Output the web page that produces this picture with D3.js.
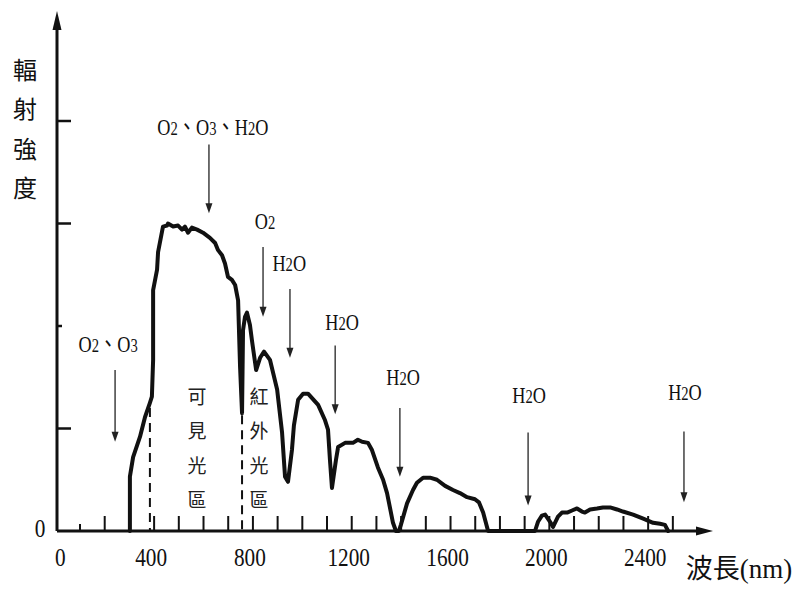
<!DOCTYPE html>
<html><head><meta charset="utf-8">
<script src="https://cdn.jsdelivr.net/npm/d3@7"></script>
<style>body{margin:0;background:#fff}</style>
</head><body>
<script>
// ---- data ----
const wavelength = [302,302,315,343,363,383,391,396,396,412,416,432,436,452,456,477,497,513,525,537,553,574,598,626,647,659,675,687,699,715,728,740,748,756,760,768,776,788,796,813,829,845,869,898,918,930,942,958,966,983,1003,1023,1064,1092,1104,1112,1120,1136,1145,1173,1205,1225,1242,1266,1282,1306,1327,1343,1367,1379,1391,1399,1424,1448,1464,1489,1517,1545,1578,1610,1638,1667,1699,1715,1732,1752,1942,1954,1970,1983,2003,2015,2035,2051,2072,2092,2112,2132,2144,2165,2193,2217,2246,2274,2298,2339,2380,2420,2448,2468,2481];
const intensity = [0,0.53,0.72,0.92,1.11,1.25,1.31,1.67,2.35,2.55,2.72,2.92,2.97,2.98,3.00,2.97,2.98,2.94,2.97,2.91,2.96,2.94,2.91,2.86,2.81,2.74,2.69,2.61,2.48,2.45,2.40,2.25,1.60,1.15,1.96,2.09,2.13,2.01,1.86,1.57,1.69,1.75,1.67,1.38,0.96,0.53,0.48,0.79,1.03,1.28,1.34,1.34,1.23,1.08,0.99,0.69,0.42,0.69,0.82,0.86,0.86,0.89,0.87,0.86,0.79,0.62,0.50,0.37,0.08,0,0,0.06,0.27,0.40,0.47,0.52,0.52,0.50,0.44,0.40,0.37,0.33,0.31,0.28,0.18,0,0,0.09,0.15,0.16,0.09,0.04,0.14,0.18,0.18,0.20,0.22,0.19,0.18,0.21,0.22,0.23,0.23,0.21,0.19,0.16,0.12,0.08,0.07,0.06,0];
const xTickValues = [100,200,300,400,500,600,700,800,900,1000,1100,1200,1300,1400,1500,1600,1700,1800,1900,2000,2100,2200,2300,2400,2500];
const xTickLabels = [0,400,800,1200,1600,2000,2400];
const yTickValues = [1,2,3,4];
const yTickLen = [14,5,14,14];
const yTitle = "輻射強度";
const xTitle = "波長(nm)";
const annLabels = ["O2、O3","O2、O3、H2O","O2","H2O","H2O","H2O","H2O","H2O"];
const annWavelength = [242,622,841,950,1133,1395,1914,2545];
const annTop = [1.57,3.77,2.77,2.36,1.81,1.20,0.96,0.97];
const annBottom = [0.87,3.10,2.09,1.69,1.14,0.53,0.25,0.28];
const annLabelWavelength = [214,638,849,947,1161,1408,1918,2549];
const annLabelY = [1.83,3.94,3.03,2.62,2.04,1.50,1.33,1.36];
const regionText = ["可見光區","紅外光區"];
const regionWavelength = [574,825];
const regionTop = [1.31,1.31];
const boundaryWavelength = [383,756];
const boundaryTop = [1.20,1.13];

// ---- drawing ----
const W = 800, H = 600;
const svg = d3.select("body").append("svg").attr("width", W).attr("height", H)
  .style("font-family", "'Liberation Serif','Noto Sans CJK TC',serif");

const x = d3.scaleLinear().domain([0, 2650]).range([55.3, 709.9]);
const y = d3.scaleLinear().domain([0, 4]).range([531, 121]);
const axisX = 57;

function richText(g, str, cx, cy, size, sx) {
  const t = g.append("text")
    .attr("transform", `translate(${cx},${cy + size * 0.34}) scale(${sx},1)`)
    .attr("text-anchor", "middle")
    .attr("fill", "#111");
  const chars = Array.from(str);
  chars.forEach((c, i) => {
    const isSub = /[0-9]/.test(c) && i > 0 && /[A-Za-z]/.test(chars[i - 1]);
    t.append("tspan").text(c).attr("font-size", isSub ? size * 0.8 : size);
  });
  return t;
}

// axes
const ink = "#111";
svg.append("line").attr("x1", axisX).attr("x2", axisX).attr("y1", 531).attr("y2", 26)
  .attr("stroke", ink).attr("stroke-width", 3);
svg.append("path").attr("d", `M${axisX},11 L${axisX - 4.5},30 L${axisX + 4.5},30 Z`).attr("fill", ink);
svg.append("line").attr("x1", axisX).attr("x2", 700).attr("y1", 531).attr("y2", 531)
  .attr("stroke", ink).attr("stroke-width", 3);
svg.append("path").attr("d", `M713,531 L696,526.5 L696,535.5 Z`).attr("fill", ink);

// x ticks
svg.append("g").selectAll("line").data(xTickValues).join("line")
  .attr("x1", d => x(d)).attr("x2", d => x(d))
  .attr("y1", 531).attr("y2", (d, i) => i === 0 ? 524 : 516)
  .attr("stroke", ink).attr("stroke-width", 2);

// y ticks
svg.append("g").selectAll("line").data(yTickValues).join("line")
  .attr("x1", axisX).attr("x2", (d, i) => axisX + yTickLen[i])
  .attr("y1", d => y(d)).attr("y2", d => y(d))
  .attr("stroke", ink).attr("stroke-width", 2.5);

// tick labels
const tl = svg.append("g");
xTickLabels.forEach(v => richText(tl, String(v), x(v) + (v === 0 ? 5 : -3), 557, 25, 0.85));
richText(tl, "0", 40, 528, 25, 0.85);

// titles
const yt = svg.append("g");
Array.from(yTitle).forEach((c, i) => {
  yt.append("text").attr("x", 25).attr("y", 70 + i * 39.5 + 8.5)
    .attr("text-anchor", "middle").attr("font-size", 24)
    .attr("font-family", "'Noto Sans CJK TC'").attr("fill", ink).text(c);
});
svg.append("text").attr("x", 739).attr("y", 578).attr("text-anchor", "middle")
  .attr("font-size", 27).attr("fill", ink).text(xTitle);

// boundaries (dashed)
svg.append("g").selectAll("line").data(boundaryWavelength).join("line")
  .attr("x1", d => x(d)).attr("x2", d => x(d))
  .attr("y1", (d, i) => y(boundaryTop[i])).attr("y2", 531)
  .attr("stroke", ink).attr("stroke-width", 2).attr("stroke-dasharray", "9,6");

// region labels
regionText.forEach((s, k) => {
  Array.from(s).forEach((c, i) => {
    svg.append("text").attr("x", x(regionWavelength[k])).attr("y", y(regionTop[k]) + i * 34.5 + 7)
      .attr("text-anchor", "middle").attr("font-size", 19)
      .attr("font-family", "'Noto Sans CJK TC'").attr("fill", "#222").text(c);
  });
});

// spectrum curve
const pts = wavelength.map((w, i) => [w, intensity[i]]);
svg.append("path").datum(pts)
  .attr("d", d3.line().x(d => x(d[0])).y(d => y(d[1])))
  .attr("fill", "none").attr("stroke", ink).attr("stroke-width", 4)
  .attr("stroke-linejoin", "round").attr("stroke-linecap", "round");

// annotations
const ag = svg.append("g");
annLabels.forEach((s, i) => {
  const ax = x(annWavelength[i]);
  const y0 = y(annTop[i]), y1 = y(annBottom[i]);
  ag.append("line").attr("x1", ax).attr("x2", ax).attr("y1", y0).attr("y2", y1 - 8)
    .attr("stroke", "#333").attr("stroke-width", 1.4);
  ag.append("path").attr("d", `M${ax},${y1} L${ax - 3.5},${y1 - 10} L${ax + 3.5},${y1 - 10} Z`).attr("fill", "#222");
  richText(ag, s, x(annLabelWavelength[i]), y(annLabelY[i]), 24, 0.76);
});
</script>
</body></html>
